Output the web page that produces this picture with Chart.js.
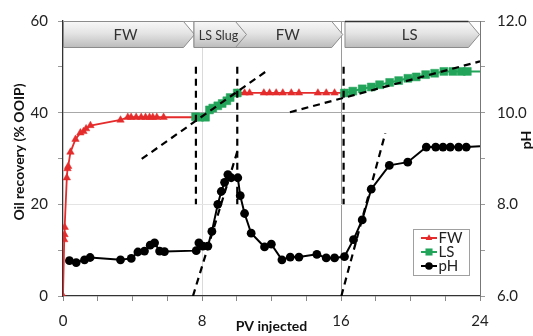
<!DOCTYPE html>
<html><head><meta charset="utf-8">
<script src="https://cdn.jsdelivr.net/npm/chart.js@4/dist/chart.umd.min.js"></script>
<style>html,body{margin:0;padding:0;background:#fff}#wrap{width:533px;height:336px}</style>
</head><body><div id="wrap"><canvas id="c" width="533" height="336"></canvas></div>
<script>
// ---- data ----
const fw1PV  = [0, 0.07, 0.09, 0.10, 0.22, 0.26, 0.30, 0.43, 0.72, 1.00, 1.18, 1.33, 1.58, 3.31, 3.73, 3.92, 4.21, 4.50, 4.75, 4.98, 5.17, 5.40, 5.79, 7.63];
const fw1Rec = [0, 12.3, 13.4, 15.0, 25.8, 27.8, 28.3, 31.4, 34.2, 35.6, 35.9, 36.5, 37.2, 38.4, 39.0, 39.0, 39.0, 39.0, 39.0, 39.0, 39.0, 39.0, 39.0, 39.0];
const fw2PV  = [10.03, 10.45, 10.74, 11.56, 11.89, 12.27, 12.65, 13.14, 13.58, 14.67, 15.15, 15.63, 16.20];
const fw2Rec = [44.3, 44.3, 44.3, 44.3, 44.3, 44.3, 44.3, 44.3, 44.3, 44.3, 44.3, 44.3, 44.3];
const lsSlugPV  = [7.63, 7.86, 8.20, 8.43, 8.62, 8.91, 9.16, 9.43, 9.62, 10.03];
const lsSlugRec = [39.1, 39.0, 39.0, 40.6, 41.0, 41.5, 42.0, 42.6, 43.3, 44.3];
const lsPV  = [16.20, 16.68, 17.22, 17.74, 18.22, 18.80, 19.32, 19.85, 20.33, 20.87, 21.39, 21.92, 22.44, 22.92, 23.27, 24.0];
const lsRec = [44.3, 44.7, 45.2, 45.6, 46.1, 46.6, 47.0, 47.5, 47.8, 48.3, 48.6, 49.0, 49.0, 49.0, 49.0, 49.0];
const phPV  = [0.37, 0.76, 1.24, 1.56, 3.31, 3.93, 4.31, 4.69, 5.02, 5.27, 5.56, 5.84, 7.67, 7.82, 8.05, 8.34, 8.57, 8.91, 9.11, 9.30, 9.49, 9.68, 10.06, 10.20, 10.45, 10.83, 11.60, 11.99, 12.60, 13.08, 13.58, 14.61, 15.15, 15.63, 16.20, 16.72, 17.22, 17.74, 18.78, 19.84, 20.91, 21.45, 21.87, 22.29, 22.77, 23.21, 24.0];
const phVal = [6.77, 6.73, 6.79, 6.84, 6.79, 6.82, 6.96, 6.98, 7.11, 7.16, 6.98, 6.97, 6.99, 7.16, 7.09, 7.09, 7.41, 8.00, 8.28, 8.48, 8.65, 8.58, 8.58, 8.19, 7.80, 7.37, 7.07, 7.13, 6.79, 6.85, 6.85, 6.91, 6.83, 6.83, 6.86, 7.23, 7.66, 8.33, 8.85, 8.92, 9.25, 9.25, 9.25, 9.25, 9.25, 9.25, 9.27];
// dashed guide lines (PV, % OOIP) start/end
const guideFromPV  = [7.65, 10.03, 16.15, 7.48, 4.53, 16.02, 13.06];
const guideFromRec = [50, 50, 50, 0, 29.9, 0, 40.1];
const guideToPV    = [7.65, 10.03, 16.15, 10.07, 11.87, 18.55, 24.0];
const guideToRec   = [20, 20, 20, 32.0, 49.5, 35.5, 51.2];
// injection phases
const phaseLabels = ['FW', 'FW', 'LS Slug', 'LS'];
const phaseStart  = [0, 7.51, 7.51, 16.2];
const phaseEnd    = [7.57, 16.1, 10.56, 23.97];
const phaseTextAt = [3.6, 12.94, 8.95, 19.95];
const xTickLabels = [0, 8, 16, 24];
const yTickLabels = [0, 20, 40, 60];
const y1TickLabels = [6, 8, 10, 12];

// ---- styles ----
const RED = '#e52b2b', GREEN = '#22a55a', BLACK = '#000000';
const FONT = 'Lato';
Chart.defaults.font.family = FONT;
Chart.defaults.font.size = 15;
Chart.defaults.color = '#222';

const pts = (xs, ys) => xs.map((v, i) => ({x: v, y: ys[i]}));
const hideEnd = r => (ctx => (ctx.parsed && ctx.parsed.x >= 24) ? 0 : r);

const datasets = [];
guideFromPV.forEach((_, i) => datasets.push({
  data: [{x: guideFromPV[i], y: guideFromRec[i]}, {x: guideToPV[i], y: guideToRec[i]}],
  yAxisID: 'y', borderColor: BLACK, borderWidth: 2.2, borderDash: [7, 5],
  pointRadius: 0, order: 0, tension: 0
}));
const lsStyle = {yAxisID: 'y', borderColor: GREEN, backgroundColor: GREEN, borderWidth: 2,
  pointStyle: 'rect', pointRadius: hideEnd(5.6), pointBorderWidth: 0.5, order: 1};
const fwStyle = {yAxisID: 'y', borderColor: RED, backgroundColor: RED, borderWidth: 1.8,
  pointStyle: 'triangle', pointRadius: 4.3, pointBorderWidth: 0.5, order: 2};
datasets.push(Object.assign({label: 'LS', data: pts(lsSlugPV, lsSlugRec)}, lsStyle));
datasets.push(Object.assign({label: 'LS', data: pts(lsPV, lsRec)}, lsStyle));
datasets.push(Object.assign({label: 'FW', data: pts(fw1PV, fw1Rec)}, fwStyle));
datasets.push(Object.assign({label: 'FW', data: pts(fw2PV, fw2Rec)}, fwStyle));
datasets.push({label: 'pH', data: pts(phPV, phVal), yAxisID: 'y1', borderColor: BLACK, backgroundColor: BLACK,
  borderWidth: 2, pointStyle: 'circle', pointRadius: hideEnd(4.4), pointBorderWidth: 0, order: 3});

const clear = 'rgba(0,0,0,0)';
const deco = {
  id: 'deco',
  beforeDatasetsDraw(chart) {
    const {ctx, chartArea: a, scales: {x}} = chart;
    ctx.save();
    ctx.strokeStyle = '#9a9a9a'; ctx.lineWidth = 1;
    ctx.beginPath(); ctx.moveTo(a.left, a.top + 0.5); ctx.lineTo(a.right, a.top + 0.5); ctx.stroke();
    const top = a.top + 0.5, bot = a.top + 26.5, mid = (top + bot) / 2, tip = 11;
    phaseLabels.forEach((lab, i) => {
      const x0 = x.getPixelForValue(phaseStart[i]) + 0.5;
      const x2 = x.getPixelForValue(phaseEnd[i]);
      const x1 = x2 - tip;
      const g = ctx.createLinearGradient(0, top, 0, bot);
      g.addColorStop(0, '#f8f8f8'); g.addColorStop(0.45, '#e4e4e4'); g.addColorStop(1, '#bcbcbc');
      ctx.beginPath();
      ctx.moveTo(x0, top); ctx.lineTo(x1, top); ctx.lineTo(x2, mid); ctx.lineTo(x1, bot); ctx.lineTo(x0, bot); ctx.closePath();
      ctx.fillStyle = g; ctx.fill();
      ctx.strokeStyle = '#8c8c8c'; ctx.lineWidth = 1; ctx.stroke();
      if (lab === 'LS') {
        ctx.strokeStyle = '#333'; ctx.lineWidth = 1.6;
        ctx.beginPath(); ctx.moveTo(x0, top); ctx.lineTo(x1, top); ctx.stroke();
      }
      ctx.fillStyle = '#333';
      ctx.font = (lab.length > 3 ? '12.5px ' : '15px ') + FONT;
      ctx.textAlign = 'center'; ctx.textBaseline = 'middle';
      ctx.fillText(lab, x.getPixelForValue(phaseTextAt[i]), mid + 1);
    });
    ctx.restore();
  },
  afterDraw(chart) {
    const {ctx, chartArea: a} = chart;
    ctx.save();
    ctx.fillStyle = '#111';
    ctx.font = 'bold 14px ' + FONT;
    ctx.textAlign = 'center'; ctx.textBaseline = 'middle';
    ctx.fillText('PV injected', (a.left + a.right) / 2, 326);
    ctx.save(); ctx.translate(19, 152); ctx.rotate(-Math.PI / 2); ctx.fillText('Oil recovery (% OOIP)', 0, 0); ctx.restore();
    ctx.save(); ctx.translate(526, 140); ctx.rotate(-Math.PI / 2); ctx.fillText('pH', 0, 0); ctx.restore();
    // legend
    const bx = a.right - 66.5, by = a.bottom - 66.5, bw = 56, bh = 46;
    ctx.fillStyle = '#fff'; ctx.fillRect(bx, by, bw, bh);
    ctx.strokeStyle = '#a0a0a0'; ctx.lineWidth = 1; ctx.strokeRect(bx, by, bw, bh);
    const items = [
      {t: 'FW', c: RED, s: 'triangle', r: 3.8},
      {t: 'LS', c: GREEN, s: 'rect', r: 5},
      {t: 'pH', c: BLACK, s: 'circle', r: 3.8}
    ];
    items.forEach((it, i) => {
      const yy = by + 8.5 + i * 14;
      ctx.strokeStyle = it.c; ctx.lineWidth = 2;
      ctx.beginPath(); ctx.moveTo(bx + 7.5, yy); ctx.lineTo(bx + 23.5, yy); ctx.stroke();
      ctx.fillStyle = it.c; ctx.beginPath();
      Chart.helpers.drawPoint(ctx, {pointStyle: it.s, radius: it.r, borderWidth: 0, rotation: 0}, bx + 15.5, yy);
      ctx.fillStyle = '#222'; ctx.font = '15px ' + FONT; ctx.textAlign = 'left'; ctx.textBaseline = 'middle';
      ctx.fillText(it.t, bx + 25, yy + 0.5);
    });
    ctx.restore();
  }
};

new Chart(document.getElementById('c'), {
  type: 'line',
  data: {datasets},
  options: {
    responsive: false, animation: false, devicePixelRatio: 1,
    layout: {padding: {top: 15, left: 0, right: 0, bottom: 0}},
    plugins: {legend: {display: false}, tooltip: {enabled: false}},
    scales: {
      x: {type: 'linear', min: 0, max: 24,
        ticks: {stepSize: 2, autoSkip: false, maxRotation: 0, padding: 11,
          callback: v => xTickLabels.includes(v) ? String(v) : ''},
        grid: {color: c => c.tick && c.tick.value === 8 ? '#dadada' : (c.tick && c.tick.value === 16 ? '#9a9a9a' : clear),
          tickColor: '#888', tickLength: 5},
        border: {color: '#333', width: 1.3},
        afterFit: s => { s.height = 40; }},
      y: {type: 'linear', position: 'left', min: 0, max: 60,
        ticks: {stepSize: 10, padding: 10, callback: v => yTickLabels.includes(v) ? String(v) : ''},
        grid: {color: c => c.tick && c.tick.value === 20 ? '#e4e4e4' : (c.tick && c.tick.value === 40 ? '#a8a8a8' : clear),
          tickColor: '#999', tickLength: 5},
        border: {color: '#333', width: 1.3},
        afterFit: s => { s.width = 63; }},
      y1: {type: 'linear', position: 'right', min: 6, max: 12,
        ticks: {stepSize: 1, padding: 12, callback: v => y1TickLabels.includes(v) ? v.toFixed(1) : ''},
        grid: {drawOnChartArea: false, tickColor: '#999', tickLength: 5},
        border: {color: '#777', width: 1},
        afterFit: s => { s.width = 53; }}
    }
  },
  plugins: [deco]
});
</script>
</body></html>
